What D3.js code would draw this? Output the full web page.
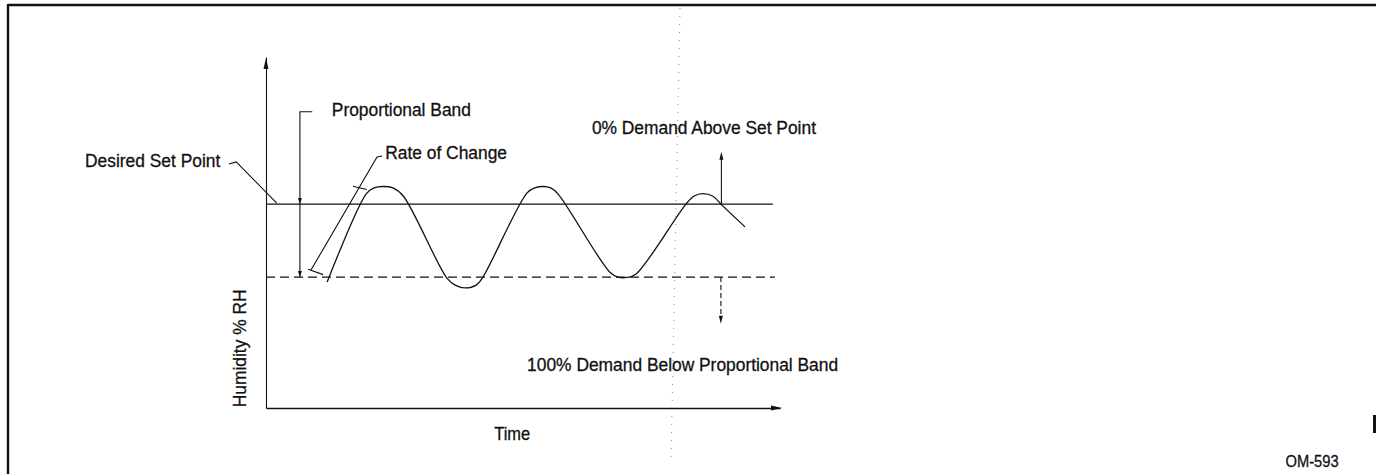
<!DOCTYPE html>
<html>
<head>
<meta charset="utf-8">
<script src="https://cdn.jsdelivr.net/npm/d3@7"></script>
<style>
html, body { margin: 0; padding: 0; background: #fff; }
svg { display: block; }
text { font-family: "Liberation Sans", Arial, Helvetica, sans-serif; fill: #111; stroke: #111; stroke-width: 0.3px; }
</style>
</head>
<body>
<div class="canvas"></div>
<script>
// Config
var width = 1376,
    height = 474,
    ink = '#111';

// Humidity curve (time 0-100, humidity 0-100)
var waveTime     = [11.9, 19.5, 21.0, 22.8, 24.7, 26.7, 35.2, 36.8, 38.7, 40.9, 42.2, 50.8, 52.3, 53.9, 55.4, 56.8, 66.9, 68.5, 70.2, 72.0, 81.7, 83.3, 85.0, 86.9, 88.7, 93.2];
var waveHumidity = [35.9, 61.0, 62.7, 63.1, 62.7, 60.4, 37.0, 35.0, 34.2, 35.0, 37.3, 61.3, 62.7, 63.1, 62.7, 61.0, 38.7, 37.3, 37.2, 38.2, 58.1, 60.4, 61.1, 60.4, 57.8, 51.6];

// Reference levels
var setPoint = 58.1,
    bandLow = 37.3,
    levelEnd = [98.6, 99.0];

// Labels
var labelTexts = ['Desired Set Point', 'Proportional Band', 'Rate of Change', '0% Demand Above Set Point', '100% Demand Below Proportional Band'];
var xTitle = 'Time',
    yTitle = 'Humidity % RH',
    figureId = 'OM-593';

var waveData = waveTime.map(function (t, i) { return {t: t, h: waveHumidity[i]}; });

var svg = d3.select('.canvas').append('svg')
    .attr('width', width)
    .attr('height', height);

// Scan frame (top and left edges only)
svg.append('line').attr('x1', 8).attr('y1', 5).attr('x2', width).attr('y2', 5)
    .attr('stroke', ink).attr('stroke-width', 2.4);
svg.append('line').attr('x1', 8).attr('y1', 4).attr('x2', 8).attr('y2', height)
    .attr('stroke', ink).attr('stroke-width', 2.4);
svg.append('rect').attr('x', width - 3).attr('y', 415).attr('width', 3).attr('height', 18).attr('fill', ink);
// faint fold mark from the scan
svg.append('path').attr('d', 'M680,8L671,462')
    .attr('stroke', '#888').attr('stroke-width', 1).attr('stroke-dasharray', '1,7').attr('fill', 'none');

var x = d3.scaleLinear().domain([0, 100]).range([266, 780]);
var y = d3.scaleLinear().domain([0, 100]).range([408, 57]);

// Axes, no ticks
svg.append('g')
    .attr('transform', 'translate(0,' + y(0) + ')')
    .call(d3.axisBottom(x).tickValues([]).tickSizeOuter(0))
    .select('.domain').attr('stroke', ink).attr('stroke-width', 1.4);
svg.append('g')
    .attr('transform', 'translate(' + x(0) + ',0)')
    .call(d3.axisLeft(y).tickValues([]).tickSizeOuter(0))
    .select('.domain').attr('stroke', ink).attr('stroke-width', 1.1);

function arrowHead(px, py, dir, len, half) {
    var d;
    if (dir === 'up') d = 'M' + px + ',' + py + 'L' + (px - half) + ',' + (py + len) + 'L' + (px + half) + ',' + (py + len) + 'Z';
    if (dir === 'down') d = 'M' + px + ',' + py + 'L' + (px - half) + ',' + (py - len) + 'L' + (px + half) + ',' + (py - len) + 'Z';
    if (dir === 'right') d = 'M' + px + ',' + py + 'L' + (px - len) + ',' + (py - half) + 'L' + (px - len) + ',' + (py + half) + 'Z';
    svg.append('path').attr('d', d).attr('fill', ink);
}

arrowHead(x(100) + 2, y(0), 'right', 11, 2.5);
arrowHead(x(0), y(100) + 1, 'up', 11, 2.5);

// Set point and proportional band lines
svg.append('line')
    .attr('x1', x(0)).attr('x2', x(levelEnd[0]))
    .attr('y1', y(setPoint)).attr('y2', y(setPoint))
    .attr('stroke', ink).attr('stroke-width', 1.2);
svg.append('line')
    .attr('x1', x(0)).attr('x2', x(levelEnd[1]))
    .attr('y1', y(bandLow)).attr('y2', y(bandLow))
    .attr('stroke', ink).attr('stroke-width', 1.2)
    .attr('stroke-dasharray', '9,5');

// Humidity wave
var line = d3.line()
    .x(function (d) { return x(d.t); })
    .y(function (d) { return y(d.h); })
    .curve(d3.curveCatmullRom.alpha(0.5));

svg.append('path')
    .datum(waveData)
    .attr('d', line)
    .attr('fill', 'none')
    .attr('stroke', ink)
    .attr('stroke-width', 1.3);

// Leader helper in data units
function leader(pts, dash) {
    var l = d3.line().x(function (d) { return x(d[0]); }).y(function (d) { return y(d[1]); });
    svg.append('path').attr('d', l(pts))
        .attr('fill', 'none').attr('stroke', ink).attr('stroke-width', 1.1)
        .attr('stroke-dasharray', dash || null);
}

// Desired set point leader
leader([[-7.2, 69.5], [-5.8, 70.1], [2.1, 58.4]]);

// Proportional band bracket
leader([[9.0, 84.4], [6.6, 84.4], [6.6, bandLow]]);
arrowHead(x(6.6), y(setPoint), 'down', 6, 2);
arrowHead(x(6.6), y(bandLow), 'down', 6, 2);

// Rate of change bracket
leader([[22.6, 71.8], [21.6, 71.5], [8.75, 39.3]]);
leader([[16.9, 63.2], [19.6, 62.25]]);
leader([[8.2, 39.5], [11.1, 38.0]]);

// Demand arrows
leader([[88.6, setPoint], [88.6, 71.0]]);
arrowHead(x(88.6), y(73.0), 'up', 8, 2);
leader([[88.5, bandLow], [88.5, 26.0]], '5,3');
arrowHead(x(88.5), y(24.0), 'down', 8, 2);

// Text, slightly condensed like the scanned lettering
function label(txt, t, h, anchor, size, rotate) {
    svg.append('text')
        .attr('transform', 'translate(' + x(t) + ',' + y(h) + ')' + (rotate ? ' rotate(' + rotate + ')' : '') + ' scale(0.94,1)')
        .attr('text-anchor', anchor)
        .style('font-size', size + 'px')
        .text(txt);
}

label(labelTexts[0], -35.2, 68.8, 'start', 18.5);
label(labelTexts[1], 12.8, 83.2, 'start', 18.5);
label(labelTexts[2], 23.2, 70.8, 'start', 18.5);
label(labelTexts[3], 63.4, 78.1, 'start', 18.5);
label(labelTexts[4], 50.8, 10.6, 'start', 18.5);
label(xTitle, 47.9, -9.1, 'middle', 17.5);
label(yTitle, -3.9, 17.0, 'middle', 18.5, -90);

svg.append('text')
    .attr('transform', 'translate(1312,467) scale(0.92,1)')
    .attr('text-anchor', 'middle')
    .style('font-size', '16px')
    .text(figureId);
</script>
</body>
</html>
